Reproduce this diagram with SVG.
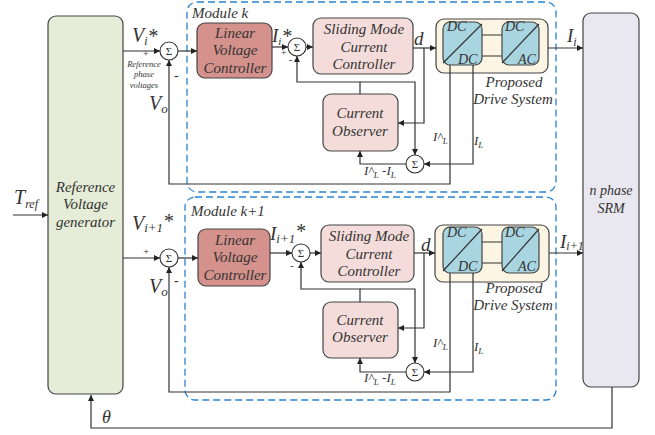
<svg xmlns="http://www.w3.org/2000/svg" width="655" height="435" viewBox="0 0 655 435">
<defs>
<marker id="ah" viewBox="0 0 10 10" refX="10" refY="5" markerWidth="7" markerHeight="6" orient="auto" markerUnits="userSpaceOnUse"><path d="M0,0 L10,5 L0,10 z" fill="#222"/></marker>
<style>
.t{font-family:"Liberation Serif","DejaVu Serif",serif;font-style:italic;fill:#333}
.c{text-anchor:middle}
.n{font-style:normal}
.blk{stroke:#444;stroke-width:1.2}
.ln{fill:none;stroke:#333;stroke-width:1.2}
.ar{marker-end:url(#ah)}
.mod{fill:none;stroke:#2a83d0;stroke-width:1.3;stroke-dasharray:7 4}
.sum{fill:#fff;stroke:#333;stroke-width:1.1}
.sg{font-family:"Liberation Serif","DejaVu Serif",serif;font-size:11px;fill:#333;text-anchor:middle}
</style>
</defs>
<rect width="655" height="435" fill="#fff"/>

<g id="module-k">
<rect class="mod" x="187" y="2" width="369" height="190" rx="10"/>
<text class="t" x="192" y="18" font-size="15">Module k</text>
</g>
<g id="module-k1">
<rect class="mod" x="185" y="197" width="371" height="203" rx="10"/>
<text class="t" x="191" y="216" font-size="15">Module k+1</text>
</g>

<g id="generator">
<rect class="blk" x="48" y="16" width="75" height="378" rx="8" fill="#e5ecd7"/>
<text class="t c" font-size="15"><tspan x="85.5" y="192">Reference</tspan><tspan x="85.5" y="209">Voltage</tspan><tspan x="85.5" y="227">generator</tspan></text>
</g>

<g id="srm">
<rect class="blk" x="583" y="13" width="56" height="374" rx="8" fill="#e9e7ef"/>
<text class="t c" font-size="14"><tspan x="611" y="195">n phase</tspan><tspan x="611" y="213">SRM</tspan></text>
</g>

<g id="lvc-k">
<rect class="blk" x="197" y="23" width="75" height="55" rx="8" fill="#d5918b"/>
<text class="t c" font-size="15"><tspan x="235" y="38">Linear</tspan><tspan x="235" y="55">Voltage</tspan><tspan x="235" y="73">Controller</tspan></text>
</g>
<g id="lvc-k1">
<rect class="blk" x="198" y="229" width="72" height="57" rx="8" fill="#d5918b"/>
<text class="t c" font-size="15"><tspan x="235" y="245">Linear</tspan><tspan x="235" y="262">Voltage</tspan><tspan x="235" y="280">Controller</tspan></text>
</g>

<g id="smc-k">
<rect class="blk" x="313" y="18" width="100" height="56" rx="8" fill="#f3dcd9"/>
<text class="t c" font-size="15"><tspan x="364" y="34">Sliding Mode</tspan><tspan x="364" y="52">Current</tspan><tspan x="364" y="69">Controller</tspan></text>
</g>
<g id="smc-k1">
<rect class="blk" x="321" y="225" width="93" height="57" rx="8" fill="#f3dcd9"/>
<text class="t c" font-size="15"><tspan x="369" y="241">Sliding Mode</tspan><tspan x="369" y="259">Current</tspan><tspan x="369" y="276">Controller</tspan></text>
</g>

<g id="obs-k">
<rect class="blk" x="323" y="94" width="75" height="57" rx="8" fill="#f3dcd9"/>
<text class="t c" font-size="15"><tspan x="360" y="118">Current</tspan><tspan x="360" y="136">Observer</tspan></text>
</g>
<g id="obs-k1">
<rect class="blk" x="323" y="302" width="75" height="56" rx="8" fill="#f3dcd9"/>
<text class="t c" font-size="15"><tspan x="360" y="325">Current</tspan><tspan x="360" y="342">Observer</tspan></text>
</g>

<g id="drive-k">
<rect class="blk" x="436" y="19" width="112" height="54" rx="8" fill="#fdf5e3"/>
<rect class="blk" x="443" y="22" width="39" height="43" rx="7" fill="#a9d5e1"/>
<rect class="blk" x="502" y="22" width="37" height="43" rx="7" fill="#a9d5e1"/>
<path class="ln" d="M443,63 L482,24 M502,63 L539,24 M482,35 H502 M482,56 H502"/>
<text class="t" font-size="14" x="447" y="31">DC</text>
<text class="t" font-size="14" x="458" y="64">DC</text>
<text class="t" font-size="14" x="505" y="31">DC</text>
<text class="t" font-size="14" x="518" y="64">AC</text>
<text class="t c" font-size="15"><tspan x="514" y="87">Proposed</tspan><tspan x="513" y="104">Drive System</tspan></text>
</g>
<g id="drive-k1">
<rect class="blk" x="435" y="225" width="114" height="57" rx="8" fill="#fdf5e3"/>
<rect class="blk" x="443" y="227" width="39" height="46" rx="7" fill="#a9d5e1"/>
<rect class="blk" x="502" y="227" width="37" height="46" rx="7" fill="#a9d5e1"/>
<path class="ln" d="M443,271 L482,229 M502,271 L539,229 M482,242 H502 M482,263 H502"/>
<text class="t" font-size="14" x="447" y="237">DC</text>
<text class="t" font-size="14" x="458" y="271">DC</text>
<text class="t" font-size="14" x="505" y="237">DC</text>
<text class="t" font-size="14" x="518" y="271">AC</text>
<text class="t c" font-size="15"><tspan x="514" y="293">Proposed</tspan><tspan x="513" y="310">Drive System</tspan></text>
</g>

<g id="connectors">
<path class="ln ar" d="M13,215 H48"/>
<path class="ln ar" d="M612,387 V428 H91 V395"/>
<path class="ln ar" d="M123,51 H160"/>
<path class="ln ar" d="M178,51 H197"/>
<path class="ln ar" d="M450,65 V184 H169 V60"/>
<path class="ln ar" d="M272,47 H288"/>
<path class="ln ar" d="M306,47 H313"/>
<path class="ln ar" d="M413,48 H436"/>
<path class="ln ar" d="M424,48 V123 H398"/>
<path class="ln ar" d="M360,94 V82 H297 V56"/>
<path class="ln ar" d="M360,82 H415 V155"/>
<path class="ln ar" d="M473,65 V164 H424"/>
<path class="ln ar" d="M406,164 H360 V151"/>
<path class="ln ar" d="M548,48 H583"/>
<path class="ln ar" d="M123,258 H160"/>
<path class="ln ar" d="M178,258 H198"/>
<path class="ln ar" d="M450,273 V392 H169 V267"/>
<path class="ln ar" d="M270,253 H292"/>
<path class="ln ar" d="M310,253 H321"/>
<path class="ln ar" d="M414,253 H435"/>
<path class="ln ar" d="M424,253 V328 H398"/>
<path class="ln ar" d="M360,302 V289 H301 V262"/>
<path class="ln ar" d="M360,289 H415 V363"/>
<path class="ln ar" d="M473,273 V372 H424"/>
<path class="ln ar" d="M406,372 H360 V358"/>
<path class="ln ar" d="M549,253 H583"/>
</g>

<g id="sum-k-1"><circle class="sum" cx="169" cy="51" r="9"/><text class="sg" x="169" y="55">Σ</text></g>
<g id="sum-k-2"><circle class="sum" cx="297" cy="47" r="9"/><text class="sg" x="297" y="51">Σ</text></g>
<g id="sum-k-3"><circle class="sum" cx="415" cy="164" r="9"/><text class="sg" x="415" y="168">Σ</text></g>
<g id="sum-k1-1"><circle class="sum" cx="169" cy="258" r="9"/><text class="sg" x="169" y="262">Σ</text></g>
<g id="sum-k1-2"><circle class="sum" cx="301" cy="253" r="9"/><text class="sg" x="301" y="257">Σ</text></g>
<g id="sum-k1-3"><circle class="sum" cx="415" cy="372" r="9"/><text class="sg" x="415" y="376">Σ</text></g>

<g id="labels">
<text class="t" x="14" y="204" font-size="20">T<tspan font-size="12" dy="4">ref</tspan></text>
<text class="t" x="102" y="423" font-size="18">θ</text>
<text class="t" x="132" y="42" font-size="20">V<tspan font-size="12" dy="3">i</tspan><tspan font-size="20" dy="-2">*</tspan></text>
<text class="t n" x="143" y="57" font-size="10">+</text>
<text class="t c" font-size="8.5"><tspan x="144" y="67">Reference</tspan><tspan x="144" y="77">phase</tspan><tspan x="144" y="88">voltages</tspan></text>
<text class="t n" x="174" y="80" font-size="14">-</text>
<text class="t" x="149" y="110" font-size="20">V<tspan font-size="13" dy="3">o</tspan></text>
<text class="t" x="272" y="42" font-size="19">I<tspan font-size="11" dy="3">i</tspan><tspan font-size="20" dy="-2">*</tspan></text>
<text class="t n" x="281" y="56" font-size="10">+</text>
<text class="t n" x="289" y="63" font-size="10">-</text>
<text class="t" x="414" y="45" font-size="19">d</text>
<text class="t" x="567" y="42" font-size="19">I<tspan font-size="12" dy="4">i</tspan></text>
<text class="t" x="433" y="141" font-size="13">I^<tspan font-size="9" dy="3">L</tspan></text>
<text class="t" x="474" y="145" font-size="13">I<tspan font-size="9" dy="3">L</tspan></text>
<text class="t" x="364" y="175" font-size="13">I^<tspan font-size="9" dy="3">L</tspan><tspan dy="-3"> -I</tspan><tspan font-size="9" dy="3">L</tspan></text>
<text class="t" x="132" y="230" font-size="20">V<tspan font-size="13" dy="2">i+1</tspan><tspan dy="-4" font-size="20">*</tspan></text>
<text class="t n" x="143" y="255" font-size="11">+</text>
<text class="t n" x="174" y="285" font-size="14">-</text>
<text class="t" x="149" y="293" font-size="20">V<tspan font-size="13" dy="3">o</tspan></text>
<text class="t" x="270" y="240" font-size="19">I<tspan font-size="13" dy="3">i+1</tspan><tspan font-size="20" dy="-5">*</tspan></text>
<text class="t n" x="286" y="256" font-size="10">+</text>
<text class="t n" x="290" y="269" font-size="11">-</text>
<text class="t" x="421" y="251" font-size="19">d</text>
<text class="t" x="560" y="248" font-size="19">I<tspan font-size="12" dy="2">i+1</tspan></text>
<text class="t" x="433" y="347" font-size="13">I^<tspan font-size="9" dy="3">L</tspan></text>
<text class="t" x="474" y="351" font-size="13">I<tspan font-size="9" dy="3">L</tspan></text>
<text class="t" x="364" y="382" font-size="13">I^<tspan font-size="9" dy="3">L</tspan><tspan dy="-3"> -I</tspan><tspan font-size="9" dy="3">L</tspan></text>
</g>
</svg>
